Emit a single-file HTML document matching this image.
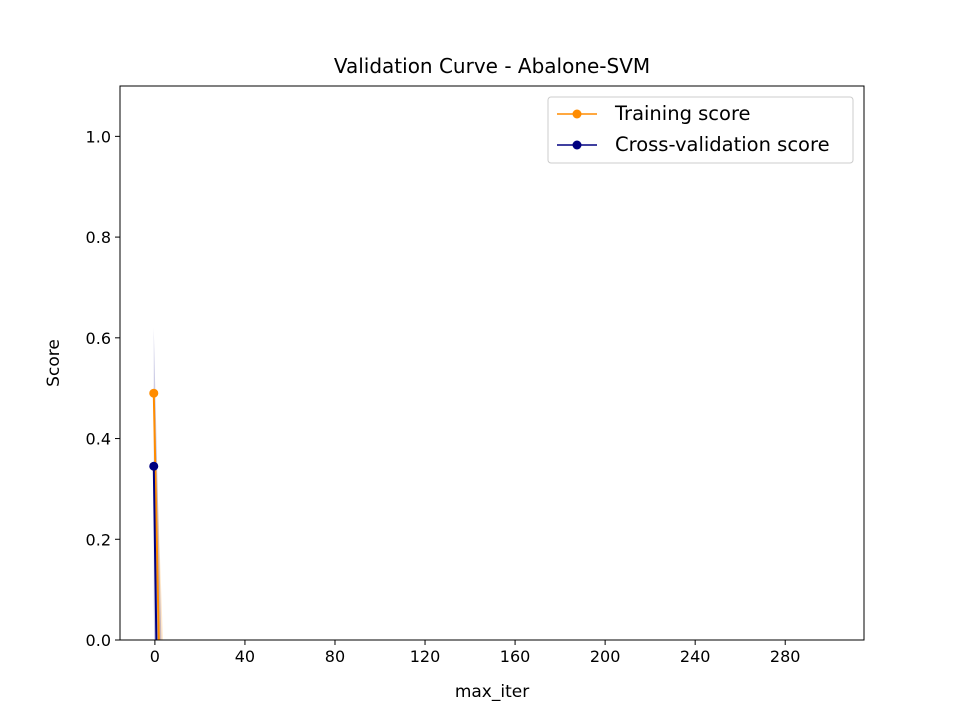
<!DOCTYPE html>
<html><head><meta charset="utf-8"><style>
html,body{margin:0;padding:0;background:#fff;overflow:hidden;width:960px;height:720px}
svg{display:block}
text{font-family:"DejaVu Sans","Liberation Sans",sans-serif}
</style></head><body>
<svg id="chart" width="960" height="720" xmlns="http://www.w3.org/2000/svg">
<rect width="960" height="720" fill="#fff"/>
<defs><clipPath id="plot"><rect x="120" y="86" width="744" height="554"/></clipPath></defs>
<text x="492" y="73" text-anchor="middle" font-size="20">Validation Curve - Abalone-SVM</text>
<g id="bands" clip-path="url(#plot)"></g>
<g id="lines" clip-path="url(#plot)"></g>
<g id="axes"></g>
<text x="492" y="697" text-anchor="middle" font-size="17">max_iter</text>
<text transform="translate(59,363) rotate(-90)" text-anchor="middle" font-size="17">Score</text>
<g>
<rect x="548" y="97" width="305" height="66" fill="#fff" stroke="#ccc" rx="3"/>
<line x1="557" y1="114" x2="597" y2="114" stroke="#ff8c00" stroke-width="1.5"/><circle cx="577" cy="114" r="4.5" fill="#ff8c00"/>
<text x="615" y="120" font-size="19.5">Training score</text>
<line x1="557" y1="145" x2="597" y2="145" stroke="#000080" stroke-width="1.5"/><circle cx="577" cy="145" r="4.5" fill="#000080"/>
<text x="615" y="151" font-size="19.5">Cross-validation score</text>
</g>
</svg>
<script>
const maxIter=[-0.5,10,50,100,200,300];
const trainMean=[0.49,-1.8,-3,-3,-3,-3];
const trainStd=[0.02,1.0,0.3,0.3,0.3,0.3];
const cvMean=[0.345,-2.8,-4,-4,-4,-4];
const cvStd=[0.275,1.5,0.5,0.5,0.5,0.5];
const xTicks=[0,40,80,120,160,200,240,280];
const yTicks=[0,0.2,0.4,0.6,0.8,1.0];
const NS="http://www.w3.org/2000/svg";
const X0=120,X1=864,Y0=640,Y1=86,xmin=-15.5,xmax=315,ymin=0,ymax=1.1;
const sx=v=>X0+(v-xmin)/(xmax-xmin)*(X1-X0);
const sy=v=>Y0-(v-ymin)/(ymax-ymin)*(Y0-Y1);
function mk(t,a,p){const e=document.createElementNS(NS,t);for(const k in a)e.setAttribute(k,a[k]);p.appendChild(e);return e;}
const bands=document.getElementById('bands'),lines=document.getElementById('lines'),axes=document.getElementById('axes');
function band(m,s,c,name){
 let pts=maxIter.map((x,i)=>sx(x)+','+sy(m[i]+s[i]));
 pts=pts.concat(maxIter.map((x,i)=>sx(x)+','+sy(m[i]-s[i])).reverse());
 const p=mk('polygon',{points:pts.join(' '),fill:c,'fill-opacity':0.2},bands);
 
 
}
band(trainMean,trainStd,'#ff8c00','training-band');
band(cvMean,cvStd,'#000080','cv-band');
function series(m,c,name){
 const l=mk('polyline',{points:maxIter.map((x,i)=>sx(x)+','+sy(m[i])).join(' '),fill:'none',stroke:c,'stroke-width':2},lines);
 
 
 maxIter.forEach((x,i)=>{const d=mk('circle',{cx:sx(x),cy:sy(m[i]),r:4.5,fill:c},lines);
 
 });
}
series(trainMean,'#ff8c00','training');
series(cvMean,'#000080','cv');
const fr=mk('rect',{x:X0,y:Y1,width:X1-X0,height:Y0-Y1,fill:'none',stroke:'#000','stroke-width':1},axes);


xTicks.forEach(t=>{mk('line',{x1:sx(t),x2:sx(t),y1:Y0,y2:Y0+5,stroke:'#000'},axes);
 const e=mk('text',{x:sx(t),y:Y0+22,'text-anchor':'middle','font-size':16},axes);e.textContent=t;
 
 });
yTicks.forEach(t=>{mk('line',{x1:X0-5,x2:X0,y1:sy(t),y2:sy(t),stroke:'#000'},axes);
 const e=mk('text',{x:X0-9,y:sy(t)+6,'text-anchor':'end','font-size':16},axes);e.textContent=t.toFixed(1);
 
 });
</script>
</body></html>
